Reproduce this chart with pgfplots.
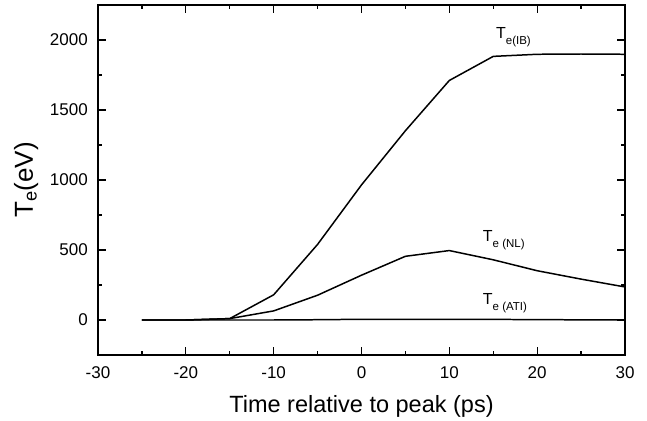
\documentclass[border=0pt]{standalone}
\usepackage{pgfplots}
\pgfplotsset{compat=1.18}
\usepackage{fontspec}
\setmainfont{Liberation Sans}
\newcommand{\sub}[1]{\raisebox{-6bp}{\fontsize{11.5bp}{13bp}\selectfont #1}}
\begin{document}
\begin{tikzpicture}
\begin{axis}[
 scale only axis, width=527bp, height=350bp,
 xmin=-30, xmax=30, ymin=-250, ymax=2250,
 xtick={-30,-20,...,30}, ytick={0,500,...,2000},
 minor x tick num=1, minor y tick num=1,
 tick align=inside, major tick length=8bp, minor tick length=4bp,
 axis line style={line width=1.5pt},
 every tick/.style={black, line width=1.2pt},
 tick label style={font=\fontsize{17bp}{20bp}\selectfont},
 /pgf/number format/assume math mode=true,
 /pgf/number format/1000 sep={},
 xticklabel style={anchor=base, yshift=-23bp},
 yticklabel style={anchor=east, inner xsep=0pt, xshift=-10bp},
 xlabel={Time relative to peak (ps)},
 ylabel={T\textsubscript{e}(eV)},
 every axis x label/.style={at={(axis description cs:0.5,0)}, anchor=base, yshift=-57bp, font=\fontsize{23.5bp}{27bp}\selectfont},
 every axis y label/.style={at={(axis description cs:0,0.5)}, rotate=90, anchor=base, yshift=65bp, font=\fontsize{26bp}{30bp}\selectfont},
 clip=false,
]
\addplot[black, line width=1.5pt] coordinates {
 (-25,0) (-20,0) (-15,10) (-10,180) (-5,540) (0,965) (5,1352) (10,1711) (15,1883) (20,1898) (25,1900) (30,1898)
};
\addplot[black, line width=1.5pt] coordinates {
 (-25,0) (-20,0) (-15,10) (-10,65) (-5,177) (0,320) (5,455) (10,496) (15,430) (20,352) (25,292) (30,236)
};
\addplot[black, line width=1.5pt] coordinates {
 (-25,0) (-20,0) (-15,0) (-10,0) (-5,2) (0,5) (5,5) (10,5) (15,4) (20,3) (25,1) (30,0)
};
\node[anchor=base west, inner sep=0pt, font=\fontsize{16bp}{19bp}\selectfont] at (axis cs:15.3,2012) {T\sub{e(IB)}};
\node[anchor=base west, inner sep=0pt, font=\fontsize{16bp}{19bp}\selectfont] at (axis cs:13.8,558) {T\sub{e (NL)}};
\node[anchor=base west, inner sep=0pt, font=\fontsize{16bp}{19bp}\selectfont] at (axis cs:13.8,114) {T\sub{e (ATI)}};
\end{axis}
\pgfresetboundingbox
\useasboundingbox ([shift={(-98bp,-66bp)}]current axis.south west) rectangle ([shift={(22bp,5bp)}]current axis.north east);
\end{tikzpicture}
\end{document}
